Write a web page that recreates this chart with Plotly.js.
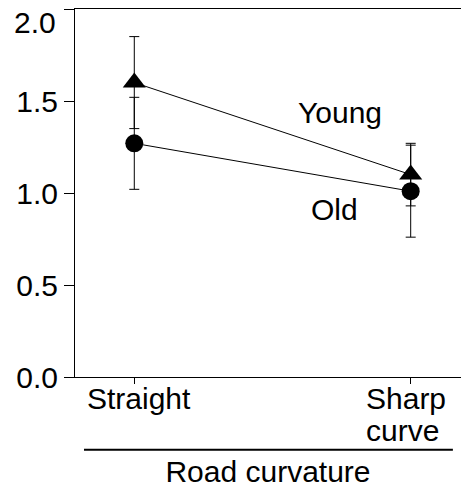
<!DOCTYPE html>
<html>
<head>
<meta charset="utf-8">
<script src="https://cdn.plot.ly/plotly-3.0.1.min.js"></script>
<style>html,body{margin:0;padding:0;background:#fff;}#chart{width:461px;height:489px;}</style>
</head>
<body>
<div id="chart"></div>
<script>
// Data
var categories = ['Straight', 'Sharp curve'];
var categoryLabelLines = [['Straight'], ['Sharp', 'curve']];
var youngMeans = [1.60, 1.10];
var youngErrors = [0.25, 0.17];
var oldMeans = [1.27, 1.01];
var oldErrors = [0.25, 0.25];
var yTickVals = [0, 0.5, 1.0, 1.5, 2.0];
var yTickText = ['0.0', '0.5', '1.0', '1.5', '2.0'];
var xAxisTitle = 'Road curvature';

var FONT = 'Liberation Sans, Arial, Helvetica, sans-serif';
var FS = 30;
function f(size) { return {family: FONT, size: size || FS, color: '#000'}; }

function series(name, y, err, symbol, size) {
  return {
    type: 'scatter',
    mode: 'lines+markers',
    name: name,
    x: categories,
    y: y,
    line: {color: '#000', width: 1},
    marker: {symbol: symbol, size: size, color: '#000'},
    error_y: {type: 'data', array: err, visible: true, color: '#000', thickness: 1, width: 5},
    cliponaxis: false,
    showlegend: false
  };
}

var traces = [
  series('Old', oldMeans, oldErrors, 'circle', 18),
  series('Young', youngMeans, youngErrors, 'triangle-up', 20)
];

// y tick labels: the top one (2.0) sits at the very edge of the figure and is drawn
// slightly lowered, as in the reference
var lastIdx = yTickVals.length - 1;
var yLabelsOnAxis = yTickText.map(function (t, i) { return i === lastIdx ? '' : t; });

var annotations = [
  {text: yTickText[lastIdx], x: 0, y: yTickVals[lastIdx], xref: 'paper', yref: 'y',
   xanchor: 'right', yanchor: 'top', xshift: -17, yshift: 5, showarrow: false, font: f()},
  {text: 'Young', x: 0.744, y: 1.435, xref: 'x', yref: 'y', showarrow: false, font: f()},
  {text: 'Old', x: 0.726, y: 0.913, xref: 'x', yref: 'y', showarrow: false, font: f()}
];

// category labels under the x axis (tight line spacing as in the reference)
categoryLabelLines.forEach(function (lines, ci) {
  lines.forEach(function (line, li) {
    var multi = lines.length > 1;
    annotations.push({
      text: line, x: ci, y: 0, xref: 'x', yref: 'paper',
      xanchor: multi ? 'left' : 'center', yanchor: 'top',
      xshift: multi ? -47 : 5, yshift: -3 - li * 32,
      showarrow: false, font: f()
    });
  });
});

var layout = {
  width: 461,
  height: 489,
  margin: {l: 75, r: 0, t: 9, b: 112},
  paper_bgcolor: '#fff',
  plot_bgcolor: '#fff',
  font: f(),
  showlegend: false,
  xaxis: {
    type: 'category',
    range: [-0.2145, 1.182],
    showline: true,
    linecolor: '#000',
    linewidth: 1,
    mirror: true,
    showgrid: false,
    zeroline: false,
    ticks: 'outside',
    ticklen: 6,
    tickcolor: '#000',
    tickwidth: 1,
    showticklabels: false,
    title: {text: xAxisTitle, font: f(), standoff: 77},
    automargin: false
  },
  yaxis: {
    range: [0, 2],
    showline: true,
    linecolor: '#000',
    linewidth: 1,
    showgrid: false,
    zeroline: false,
    ticks: 'outside',
    ticklen: 10,
    tickcolor: '#000',
    tickwidth: 1,
    tickvals: yTickVals,
    ticktext: yLabelsOnAxis,
    tickfont: f(),
    automargin: false
  },
  shapes: [{
    type: 'line', xref: 'paper', yref: 'paper',
    x0: 0.0233, x1: 0.979, y0: -0.198, y1: -0.198,
    line: {color: '#000', width: 2}
  }],
  annotations: annotations
};

Plotly.newPlot('chart', traces, layout, {displayModeBar: false, staticPlot: true});
</script>
</body>
</html>
